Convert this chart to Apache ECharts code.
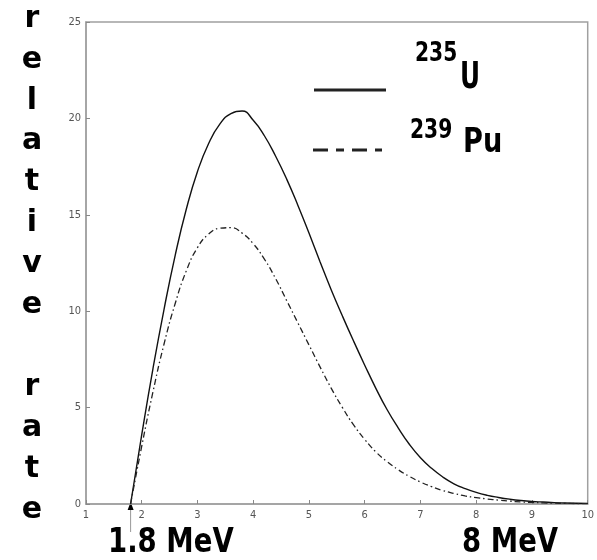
<!DOCTYPE html>
<html>
<head>
<meta charset="utf-8">
<script src="https://cdn.jsdelivr.net/npm/echarts@6/dist/echarts.min.js"></script>
<style>html,body{margin:0;padding:0;background:#fff;}#c{width:597px;height:560px;}</style>
</head>
<body>
<div id="c"></div>
<script>
const energy = [1.8, 2.0, 2.2, 2.4, 2.6, 2.8, 3.0, 3.2, 3.4, 3.6, 3.8, 4.0, 4.2, 4.4, 4.6, 4.8, 5.0, 5.2, 5.4, 5.6, 5.8, 6.0, 6.2, 6.4, 6.6, 6.8, 7.0, 7.2, 7.4, 7.6, 7.8, 8.0, 8.2, 8.4, 8.6, 8.8, 9.0, 9.2, 9.4, 9.6, 9.8, 10.0];
const u235 = [0, 3.6, 7.0, 10.1, 12.9, 15.3, 17.25, 18.7, 19.7, 20.25, 20.38, 19.9, 19.1, 18.05, 16.85, 15.5, 14.05, 12.55, 11.1, 9.75, 8.45, 7.2, 6.0, 4.9, 3.95, 3.1, 2.4, 1.85, 1.4, 1.05, 0.8, 0.6, 0.45, 0.34, 0.25, 0.18, 0.13, 0.1, 0.07, 0.05, 0.04, 0.03];
const pu239 = [0, 3.0, 5.8, 8.3, 10.4, 12.1, 13.3, 14.0, 14.3, 14.33, 14.05, 13.5, 12.7, 11.7, 10.55, 9.4, 8.25, 7.1, 6.0, 5.0, 4.1, 3.35, 2.7, 2.2, 1.78, 1.43, 1.14, 0.9, 0.7, 0.55, 0.42, 0.33, 0.26, 0.2, 0.15, 0.11, 0.08, 0.06, 0.045, 0.035, 0.025, 0.02];
const xTicks = [1, 2, 3, 4, 5, 6, 7, 8, 9, 10];
const yTicks = [0, 5, 10, 15, 20, 25];
const thresholdMeV = 1.8;
const yLetters = ['r','e','l','a','t','i','v','e','','r','a','t','e'];

const chart = echarts.init(document.getElementById('c'), null, {renderer: 'canvas'});
const tickFont = "'Liberation Sans Narrow','DejaVu Sans Condensed','Liberation Sans',sans-serif";
const boldFont = "DejaVu Sans";

const option = {
  backgroundColor: '#fff',
  animation: false,
  grid: {left: 86, right: 7, top: 22, bottom: 56, show: true, borderColor: '#a0a0a0', borderWidth: 1.5},
  xAxis: {
    type: 'value', min: xTicks[0], max: xTicks[xTicks.length-1], interval: 1,
    axisLine: {show: true, lineStyle: {color: '#a0a0a0', width: 1.5}},
    axisTick: {show: true, inside: true, length: 4, lineStyle: {color: '#888'}},
    axisLabel: {color: '#555', fontSize: 11, fontFamily: tickFont, margin: 6},
    splitLine: {show: false}
  },
  yAxis: {
    type: 'value', min: yTicks[0], max: yTicks[yTicks.length-1], interval: 5,
    axisLine: {show: true, lineStyle: {color: '#a0a0a0', width: 1.5}},
    axisTick: {show: true, inside: true, length: 4, lineStyle: {color: '#888'}},
    axisLabel: {color: '#555', fontSize: 11, fontFamily: tickFont, margin: 5},
    splitLine: {show: false}
  },
  series: [
    {name: '235U', type: 'line', smooth: 0.5, showSymbol: false, symbol: 'none',
     data: energy.map((e, i) => [e, u235[i]]),
     lineStyle: {color: '#111', width: 1.4, type: 'solid'}},
    {name: '239Pu', type: 'line', smooth: 0.5, showSymbol: false, symbol: 'none',
     data: energy.map((e, i) => [e, pu239[i]]),
     lineStyle: {color: '#222', width: 1.3, type: [6, 3, 1.5, 3]}}
  ]
};
chart.setOption(option);

const px = chart.convertToPixel({xAxisIndex: 0}, thresholdMeV);
const py0 = chart.convertToPixel({yAxisIndex: 0}, 0);

function boldText(txt, x, y, size, sx, sy) {
  return {type: 'text', x: x, y: y, scaleX: sx || 1, scaleY: sy || 1,
    style: {text: txt, fill: '#000', fontFamily: boldFont, fontWeight: 'bold', fontSize: size,
            align: 'left', verticalAlign: 'middle'}};
}

const graphics = [];
yLetters.forEach((ch, i) => {
  if (!ch) return;
  graphics.push({type: 'text', x: 32, y: 19 + i * 40.9,
    style: {text: ch, fill: '#000', fontFamily: boldFont, fontWeight: 'bold', fontSize: 30, align: 'center', verticalAlign: 'middle'}});
});
// threshold arrow
graphics.push({type: 'line', shape: {x1: px, y1: py0 + 5, x2: px, y2: py0 + 28}, style: {stroke: '#999', lineWidth: 1}});
graphics.push({type: 'polygon', shape: {points: [[px - 3, py0 + 6], [px + 3, py0 + 6], [px, py0 - 2]]}, style: {fill: '#000'}});
// bottom labels
graphics.push(boldText('1.8 MeV', 108, 543, 34, 0.81, 1));
graphics.push(boldText('8 MeV', 462, 543, 34, 0.81, 1));
// legend
graphics.push({type: 'line', shape: {x1: 314, y1: 90, x2: 386, y2: 90}, style: {stroke: '#222', lineWidth: 3}});
graphics.push({type: 'line', shape: {x1: 313, y1: 150, x2: 382, y2: 150}, style: {stroke: '#222', lineWidth: 3, lineDash: [15, 8, 8, 8]}});
graphics.push(boldText('235', 415, 54, 27, 0.75, 1));
graphics.push(boldText('U', 460, 78, 38, 0.65, 1));
graphics.push(boldText('239', 410, 131, 27, 0.75, 1));
graphics.push(boldText('Pu', 463, 143, 34, 0.8, 1));

chart.setOption({graphic: graphics});
</script>
</body>
</html>
